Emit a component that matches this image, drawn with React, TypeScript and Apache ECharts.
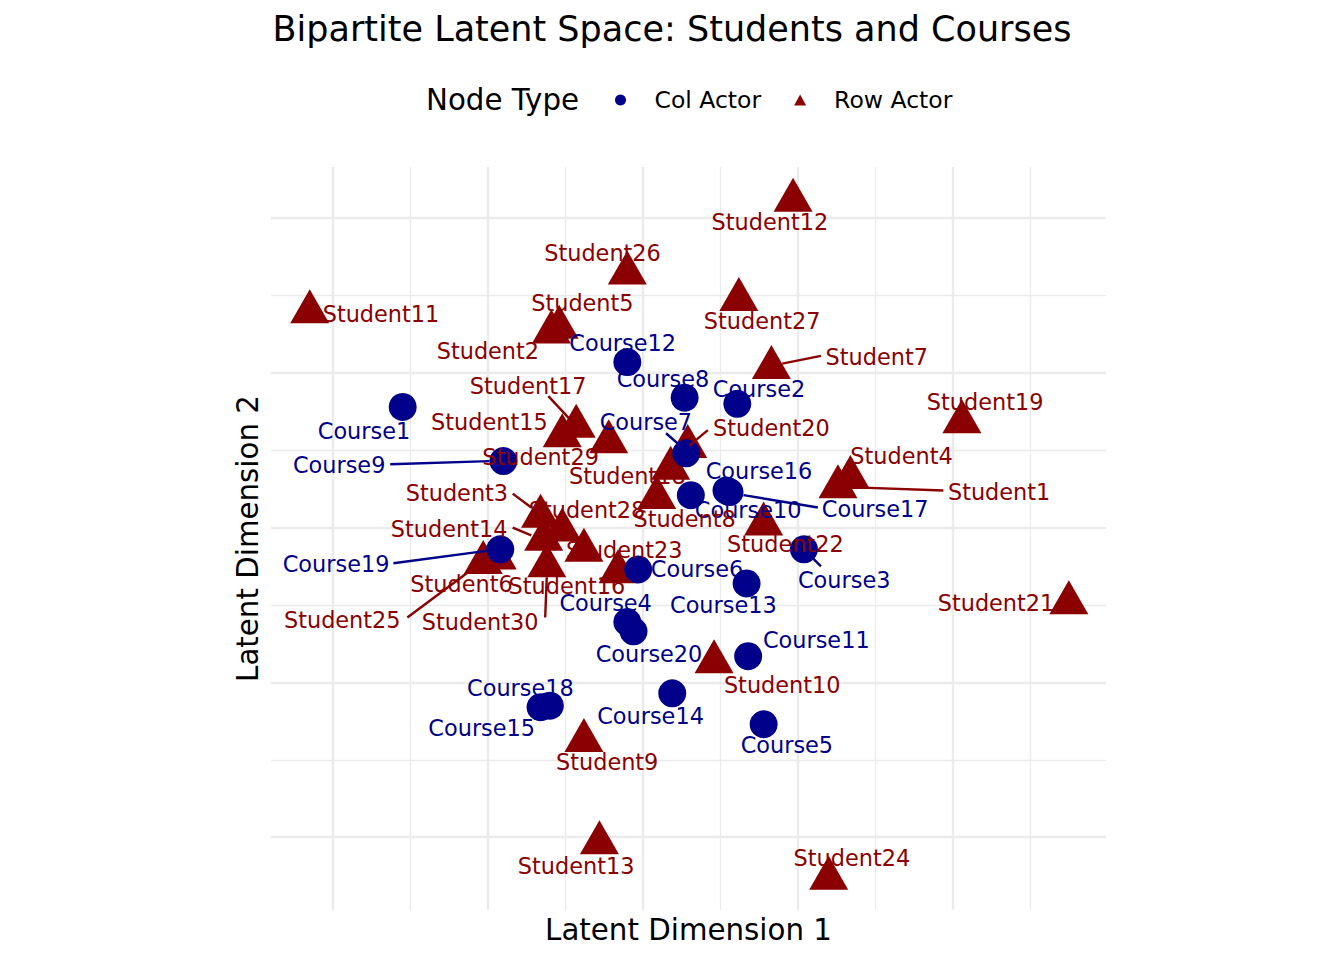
import React, { useEffect, useRef } from 'react';
import * as echarts from 'echarts';

const FONT = "'DejaVu Sans', sans-serif";
const COURSE_COLOR = '#00008B';
const STUDENT_COLOR = '#8B0000';
const GRID_COLOR = '#EBEBEB';

// Axis extents (latent units) and grid ticks
const xRange = [-2.4, 2.99];
const yRange = [-2.47, 2.33];
const xMajorTicks = [-2, -1, 0, 1, 2];
const xMinorTicks = [-1.5, -0.5, 0.5, 1.5, 2.5];
const yMajorTicks = [-2, -1, 0, 1, 2];
const yMinorTicks = [-1.5, -0.5, 0.5, 1.5];

// Col actors (courses)
const courseNames = [
  'Course1', 'Course2', 'Course3', 'Course4', 'Course5', 'Course6', 'Course7', 'Course8', 'Course9', 'Course10',
  'Course11', 'Course12', 'Course13', 'Course14', 'Course15', 'Course16', 'Course17', 'Course18', 'Course19', 'Course20',
];
const courseX = [-1.55, 0.61, 1.04, -0.10, 0.78, -0.03, 0.28, 0.27, -0.90, 0.31, 0.68, -0.10, 0.67, 0.19, -0.66, 0.54, 0.56, -0.60, -0.92, -0.06];
const courseY = [0.78, 0.80, -0.14, -0.61, -1.27, -0.27, 0.48, 0.84, 0.43, 0.21, -0.83, 1.07, -0.36, -1.07, -1.16, 0.24, 0.23, -1.15, -0.14, -0.67];
const courseLabelX = [-1.80, 0.75, 1.30, -0.24, 0.93, 0.35, 0.02, 0.13, -1.96, 0.68, 1.12, -0.13, 0.52, 0.05, -1.04, 0.75, 1.50, -0.79, -1.98, 0.04];
const courseLabelY = [0.63, 0.90, -0.33, -0.48, -1.40, -0.26, 0.69, 0.97, 0.41, 0.12, -0.72, 1.20, -0.49, -1.21, -1.29, 0.37, 0.13, -1.03, -0.23, -0.81];
// repel segments: [fromX, fromY, toX, toY]
const courseSegments = [
  [1.10, -0.20, 1.15, -0.25],
  [0.23, 0.54, 0.15, 0.61],
  [-0.99, 0.43, -1.63, 0.41],
  [0.65, 0.21, 1.13, 0.13],
  [-1.01, -0.15, -1.61, -0.23],
];

// Row actors (students)
const studentNames = [
  'Student1', 'Student2', 'Student3', 'Student4', 'Student5', 'Student6', 'Student7', 'Student8', 'Student9', 'Student10',
  'Student11', 'Student12', 'Student13', 'Student14', 'Student15', 'Student16', 'Student17', 'Student18', 'Student19', 'Student20',
  'Student21', 'Student22', 'Student23', 'Student24', 'Student25', 'Student26', 'Student27', 'Student28', 'Student29', 'Student30',
];
const studentX = [1.26, -0.59, -0.66, 1.34, -0.54, -0.94, 0.83, 0.09, -0.38, 0.46, -2.15, 0.97, -0.28, -0.64, -0.52, -0.16, -0.43, 0.18, 2.06, 0.29, 2.75, 0.78, -0.38, 1.20, -1.03, -0.10, 0.62, -0.52, -0.22, -0.62];
const studentY = [0.30, 1.30, 0.11, 0.36, 1.33, -0.16, 1.07, 0.23, -1.34, -0.83, 1.43, 2.15, -2.00, -0.04, 0.63, -0.25, 0.69, 0.42, 0.72, 0.56, -0.45, 0.06, -0.11, -2.23, -0.19, 1.68, 1.51, 0.02, 0.59, -0.21];
const studentLabelX = [2.30, -1.00, -1.20, 1.67, -0.39, -1.17, 1.51, 0.27, -0.23, 0.90, -1.69, 0.82, -0.43, -1.25, -0.99, -0.49, -0.74, -0.10, 2.21, 0.83, 2.28, 0.92, -0.12, 1.35, -1.94, -0.26, 0.77, -0.36, -0.66, -1.05];
const studentLabelY = [0.24, 1.15, 0.23, 0.47, 1.46, -0.36, 1.11, 0.06, -1.51, -1.01, 1.39, 1.98, -2.18, 0.00, 0.69, -0.37, 0.92, 0.34, 0.82, 0.65, -0.48, -0.10, -0.14, -2.13, -0.59, 1.78, 1.34, 0.12, 0.46, -0.60];
const studentSegments = [
  [1.37, 0.26, 1.94, 0.24],
  [-0.72, 0.13, -0.84, 0.22],
  [0.90, 1.06, 1.15, 1.11],
  [-0.72, -0.05, -0.84, 0.00],
  [-0.47, 0.70, -0.61, 0.85],
  [0.30, 0.53, 0.42, 0.63],
  [-1.13, -0.29, -1.52, -0.58],
  [-0.62, -0.32, -0.63, -0.58],
];

const LABEL_SIZE = 22.4;

export default function App() {
  const ref = useRef<HTMLDivElement>(null);
  useEffect(() => {
    document.body.style.margin = '0';
    document.body.style.overflow = 'hidden';
    const chart = echarts.init(ref.current as HTMLDivElement, null, { renderer: 'svg' });

    const gridLines = (ticks: number[], vertical: boolean) =>
      ticks.map((v) => ({
        coords: vertical ? [[v, yRange[0]], [v, yRange[1]]] : [[xRange[0], v], [xRange[1], v]],
      }));

    const labelSeries = (name: string, names: string[], lx: number[], ly: number[], color: string) => ({
      name,
      type: 'scatter',
      z: 6,
      silent: true,
      symbolSize: 1,
      itemStyle: { color: 'rgba(0,0,0,0)' },
      data: names.map((n, i) => ({ name: n, value: [lx[i], ly[i]] })),
      label: {
        show: true,
        position: 'inside',
        offset: [0, 1],
        formatter: '{b}',
        color,
        opacity: 1,
        fontSize: LABEL_SIZE,
        fontFamily: FONT,
      },
    });

    const segSeries = (name: string, segs: number[][], color: string) => ({
      name,
      type: 'lines',
      coordinateSystem: 'cartesian2d',
      z: 5,
      silent: true,
      lineStyle: { color, width: 2.4, opacity: 1 },
      data: segs.map((s) => ({ coords: [[s[0], s[1]], [s[2], s[3]]] })),
    });

    const option: any = {
      animation: false,
      backgroundColor: '#ffffff',
      title: {
        text: 'Bipartite Latent Space: Students and Courses',
        left: 'center',
        top: 6,
        textStyle: { fontSize: 35, fontWeight: 'normal', color: '#000', fontFamily: FONT },
      },
      legend: {
        data: [
          { name: 'Col Actor', icon: 'circle' },
          { name: 'Row Actor', icon: 'triangle' },
        ],
        left: 610,
        top: 83,
        itemWidth: 12,
        itemHeight: 11,
        itemGap: 33,
        selectedMode: false,
        textStyle: { fontSize: 23.5, color: '#000', fontFamily: FONT, padding: [0, 0, 0, 23] },
      },
      graphic: [
        {
          type: 'text',
          left: 426,
          top: 85,
          style: { text: 'Node Type', fontSize: 29.3, fill: '#000', fontFamily: FONT },
        },
      ],
      grid: { left: 271, right: 238, top: 167, bottom: 50, containLabel: false },
      xAxis: {
        type: 'value',
        min: xRange[0],
        max: xRange[1],
        axisLine: { show: false },
        axisTick: { show: false },
        axisLabel: { show: false },
        splitLine: { show: false },
        name: 'Latent Dimension 1',
        nameLocation: 'middle',
        nameGap: 5,
        nameTextStyle: { fontSize: 29.3, color: '#000', fontFamily: FONT },
      },
      yAxis: {
        type: 'value',
        min: yRange[0],
        max: yRange[1],
        axisLine: { show: false },
        axisTick: { show: false },
        axisLabel: { show: false },
        splitLine: { show: false },
        name: 'Latent Dimension 2',
        nameLocation: 'middle',
        nameGap: 9,
        nameTextStyle: { fontSize: 29.3, color: '#000', fontFamily: FONT },
      },
      series: [
        {
          name: 'gridMajor',
          type: 'lines',
          coordinateSystem: 'cartesian2d',
          z: 1,
          silent: true,
          lineStyle: { color: GRID_COLOR, width: 2.4, opacity: 1 },
          data: [...gridLines(xMajorTicks, true), ...gridLines(yMajorTicks, false)],
        },
        {
          name: 'gridMinor',
          type: 'lines',
          coordinateSystem: 'cartesian2d',
          z: 1,
          silent: true,
          lineStyle: { color: GRID_COLOR, width: 1.3, opacity: 1 },
          data: [...gridLines(xMinorTicks, true), ...gridLines(yMinorTicks, false)],
        },
        {
          name: 'Row Actor',
          type: 'scatter',
          z: 3,
          symbol: 'triangle',
          symbolSize: [39, 34],
          itemStyle: { color: STUDENT_COLOR, opacity: 1 },
          data: studentNames.map((n, i) => ({ name: n, value: [studentX[i], studentY[i]] })),
        },
        {
          name: 'Col Actor',
          type: 'scatter',
          z: 4,
          symbol: 'circle',
          symbolSize: 28,
          itemStyle: { color: COURSE_COLOR, opacity: 1 },
          data: courseNames.map((n, i) => ({ name: n, value: [courseX[i], courseY[i]] })),
        },
        segSeries('courseSegments', courseSegments, COURSE_COLOR),
        segSeries('studentSegments', studentSegments, STUDENT_COLOR),
        labelSeries('courseLabels', courseNames, courseLabelX, courseLabelY, COURSE_COLOR),
        labelSeries('studentLabels', studentNames, studentLabelX, studentLabelY, STUDENT_COLOR),
      ],
    };

    chart.setOption(option);
    return () => chart.dispose();
  }, []);
  return <div ref={ref} style={{ width: 1344, height: 960 }} />;
}
